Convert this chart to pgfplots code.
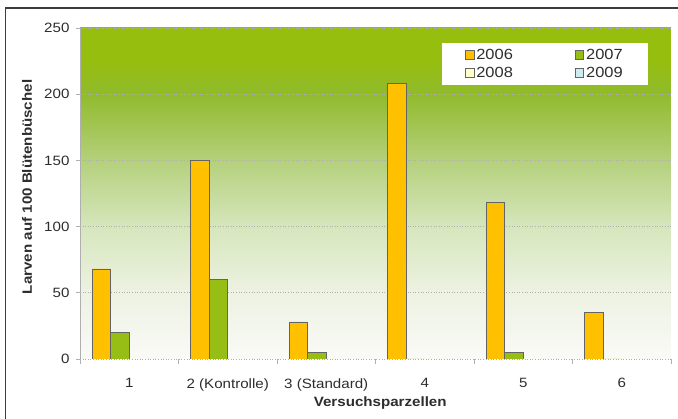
\documentclass[border=0pt]{standalone}
\usepackage{fontspec}
\setmainfont{Liberation Sans}[FakeStretch=1.12]
\usepackage{pgfplots}
\pgfplotsset{compat=1.18}

\definecolor{c2006}{RGB}{255,192,0}
\definecolor{c2007}{RGB}{150,190,20}
\definecolor{c2008}{RGB}{255,255,204}
\definecolor{c2009}{RGB}{204,236,240}
\definecolor{barline}{RGB}{100,100,100}
\definecolor{axgray}{RGB}{175,175,175}
\definecolor{gridc}{RGB}{175,175,175}
\definecolor{txt}{RGB}{45,45,45}
\definecolor{framec}{RGB}{60,60,60}

% plot area background: green at the top fading to near white
\definecolor{bg0}{RGB}{250,250,247}
\definecolor{bg1}{RGB}{237,242,226}
\definecolor{bg2}{RGB}{214,230,188}
\definecolor{bg3}{RGB}{180,208,124}
\definecolor{bg4}{RGB}{145,187,45}
\definecolor{bg5}{RGB}{150,190,15}
\pgfdeclareverticalshading{plotbg}{100bp}{%
  color(0bp)=(bg0); color(25bp)=(bg0); color(35bp)=(bg1); color(45bp)=(bg2);
  color(55bp)=(bg3); color(65bp)=(bg4); color(70bp)=(bg5); color(75bp)=(bg5);
  color(100bp)=(bg5)}

\begin{document}
\begin{tikzpicture}[font=\fontsize{13.5}{16}\selectfont]
\useasboundingbox (0,0) rectangle (678pt,419pt);
\draw[line width=1.6pt, framec] (5.5pt,0pt) -- (5.5pt,411pt) -- (678pt,411pt);
\begin{axis}[
  at={(80pt,60pt)}, anchor=south west,
  scale only axis, width=591pt, height=331pt,
  ybar=0pt, bar width=18.5pt,
  xmin=0.5, xmax=6.5, ymin=0, ymax=250,
  xtick={1,...,6},
  xticklabels={1, 2 (Kontrolle), 3 (Standard), 4, 5, 6},
  minor xtick={0.5,1.5,...,6.5},
  ytick={0,50,...,250},
  /pgf/number format/assume math mode=true,
  xtick pos=bottom, ytick pos=left,
  tick align=outside,
  major tick length=4pt, minor tick length=5pt,
  major x tick style={draw=none},
  minor x tick style={axgray, line width=0.6pt},
  major y tick style={axgray, line width=0.6pt},
  axis line style={draw=none},
  axis background/.style={shade, shading=plotbg},
  ymajorgrids,
  grid style={gridc, dash pattern=on 1pt off 1.6pt, line width=0.6pt},
  ticklabel style={text=txt},
  yticklabel style={xshift=-3pt},
  xticklabel style={yshift=-12pt},
  xlabel={\textbf{Versuchsparzellen}},
  ylabel={\textbf{Larven auf 100 Blütenbüschel}},
  xlabel style={at={(rel axis cs:0.508,0)}, anchor=center, yshift=-44pt, text=txt},
  ylabel style={at={(rel axis cs:-0.0897,0.52)}, anchor=center, text=txt},
  legend columns=2,
  legend cell align=left,
  legend style={at={(0.961,0.955)}, anchor=north east, draw=none, fill=white,
    font=\fontsize{14.7}{17}\selectfont, text=txt,
    inner xsep=23pt, inner ysep=4pt, row sep=2pt,
    /tikz/every even column/.append style={column sep=60pt}},
  every axis plot/.append style={draw=barline, line width=0.8pt},
  sq/.style={legend image code/.code={%
      \draw[##1, draw=barline, line width=0.7pt] (0pt,-4.2pt) rectangle (8.5pt,4.2pt);}},
]
\addplot[fill=c2006, sq] coordinates {(1,68) (2,150) (3,28) (4,208) (5,118) (6,35)};
\addplot[fill=c2007, sq] coordinates {(1,20) (2,60) (3,5) (4,0) (5,5) (6,0)};
\addplot[fill=c2008, sq] coordinates {(1,0) (2,0) (3,0) (4,0) (5,0) (6,0)};
\addplot[fill=c2009, sq] coordinates {(1,0) (2,0) (3,0) (4,0) (5,0) (6,0)};
\legend{2006, 2007, 2008, 2009}
% plot area border (left, bottom, right)
\draw[axgray, line width=0.8pt] (rel axis cs:0,1) -- (rel axis cs:0,0) -- (rel axis cs:1,0) -- (rel axis cs:1,1);
\end{axis}
\end{tikzpicture}
\end{document}
